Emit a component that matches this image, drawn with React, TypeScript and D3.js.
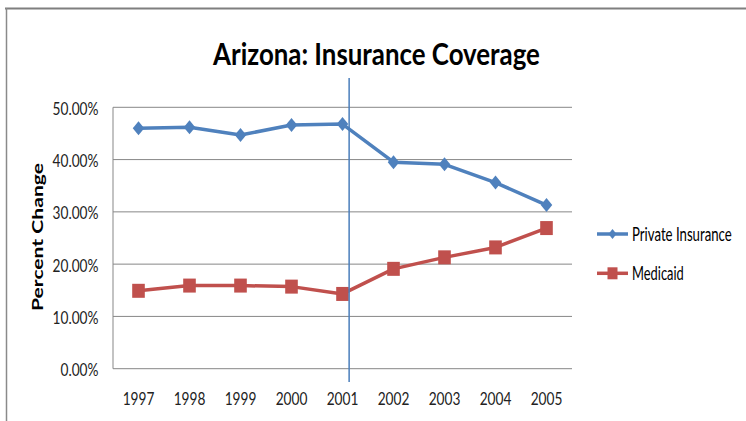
import React from "react";
import * as d3 from "d3";

const years = ["1997", "1998", "1999", "2000", "2001", "2002", "2003", "2004", "2005"];
const privateInsurance = [46.0, 46.2, 44.7, 46.6, 46.8, 39.5, 39.1, 35.6, 31.3];
const medicaid = [14.9, 15.9, 15.9, 15.7, 14.3, 19.1, 21.3, 23.2, 26.9];
const yTicks = [0, 10, 20, 30, 40, 50];
const seriesNames = ["Private Insurance", "Medicaid"];
const markerYear = "2001";
const title = "Arizona: Insurance Coverage";
const yTitle = "Percent Change";

const W = 746;
const H = 421;
const plot = { left: 113, right: 572, top: 107.3, bottom: 368.7 };
const BLUE = "#4F81BD";
const RED = "#C0504D";
const GRID = "#878787";
const FONT = "Lato, 'Open Sans', sans-serif";
const SX = 0.76;

export default function App() {
  const x = d3.scalePoint<string>().domain(years).range([plot.left, plot.right]).padding(0.5);
  const y = d3.scaleLinear().domain([0, 50]).range([plot.bottom, plot.top]);
  const step = x.step();
  const line = d3
    .line<number>()
    .x((_, i) => x(years[i]) as number)
    .y((d) => y(d));

  const diamond = (cx: number, cy: number, h: number, w: number) =>
    `M${cx},${cy - h / 2}L${cx + w / 2},${cy}L${cx},${cy + h / 2}L${cx - w / 2},${cy}Z`;

  const vx = (x(markerYear) as number) + step * 0.13;

  return (
    <svg
      width={W}
      height={H}
      style={{ position: "absolute", left: 0, top: 0, background: "#fff" }}
    >
      {/* frame */}
      <line x1={5} x2={W} y1={8.5} y2={8.5} stroke="#7f7f7f" strokeWidth={2} />
      <line x1={6.5} x2={6.5} y1={8} y2={H} stroke="#8a8a8a" strokeWidth={1.5} />

      {/* title */}
      <g transform={`translate(376.5,65) scale(0.78,1)`}>
        <text
          textAnchor="middle"
          fontFamily={FONT}
          fontWeight="bold"
          fontSize={31}
          textLength={419}
          lengthAdjust="spacingAndGlyphs"
          fill="#000"
        >
          {title}
        </text>
      </g>

      {/* gridlines */}
      {yTicks.map((t) => (
        <line key={t} x1={plot.left} x2={plot.right} y1={y(t)} y2={y(t)} stroke={GRID} strokeWidth={1} />
      ))}
      <line x1={plot.left} x2={plot.left} y1={plot.top} y2={plot.bottom} stroke={GRID} strokeWidth={1} />

      {/* y tick labels */}
      {yTicks.map((t) => (
        <g key={t} transform={`translate(98.5,${y(t) + 7.5}) scale(${SX},1)`}>
          <text textAnchor="end" fontFamily={FONT} fontSize={18} fill="#222">
            {t.toFixed(2) + "%"}
          </text>
        </g>
      ))}

      {/* x tick labels */}
      {years.map((yr) => (
        <g key={yr} transform={`translate(${x(yr)},405) scale(${SX},1)`}>
          <text textAnchor="middle" fontFamily={FONT} fontSize={18} fill="#222">
            {yr}
          </text>
        </g>
      ))}

      {/* y title */}
      <text
        transform={`translate(43,237) rotate(-90)`}
        textAnchor="middle"
        fontFamily={FONT}
        fontWeight="bold"
        fontSize={15}
        textLength={148}
        lengthAdjust="spacingAndGlyphs"
        fill="#000"
      >
        {yTitle}
      </text>

      {/* series lines */}
      <path d={line(privateInsurance) || ""} fill="none" stroke={BLUE} strokeWidth={3.5} strokeLinejoin="round" />
      <path d={line(medicaid) || ""} fill="none" stroke={RED} strokeWidth={3.5} strokeLinejoin="round" />

      {/* markers */}
      {privateInsurance.map((v, i) => (
        <path key={"p" + i} d={diamond(x(years[i]) as number, y(v), 14, 11.5)} fill={BLUE} />
      ))}
      {medicaid.map((v, i) => (
        <rect
          key={"m" + i}
          x={(x(years[i]) as number) - 6.3}
          y={y(v) - 7}
          width={12.6}
          height={14}
          fill={RED}
        />
      ))}

      {/* vertical marker line */}
      <line x1={vx} x2={vx} y1={78} y2={382} stroke="#4A7EBB" strokeWidth={1.5} />

      {/* legend */}
      {seriesNames.map((name, i) => {
        const ly = 234 + i * 39.3;
        const color = i === 0 ? BLUE : RED;
        return (
          <g key={name}>
            <line x1={597} x2={628} y1={ly} y2={ly} stroke={color} strokeWidth={3.5} />
            {i === 0 ? (
              <path d={diamond(612.5, ly, 10, 8)} fill={color} />
            ) : (
              <rect x={607.5} y={ly - 6} width={10} height={12} fill={color} />
            )}
            <g transform={`translate(632,${ly + 6.5}) scale(0.75,1)`}>
              <text
                fontFamily={FONT}
                fontSize={18.5}
                textLength={i === 0 ? 133 : 69}
                lengthAdjust="spacingAndGlyphs"
                fill="#000"
              >
                {name}
              </text>
            </g>
          </g>
        );
      })}
    </svg>
  );
}
